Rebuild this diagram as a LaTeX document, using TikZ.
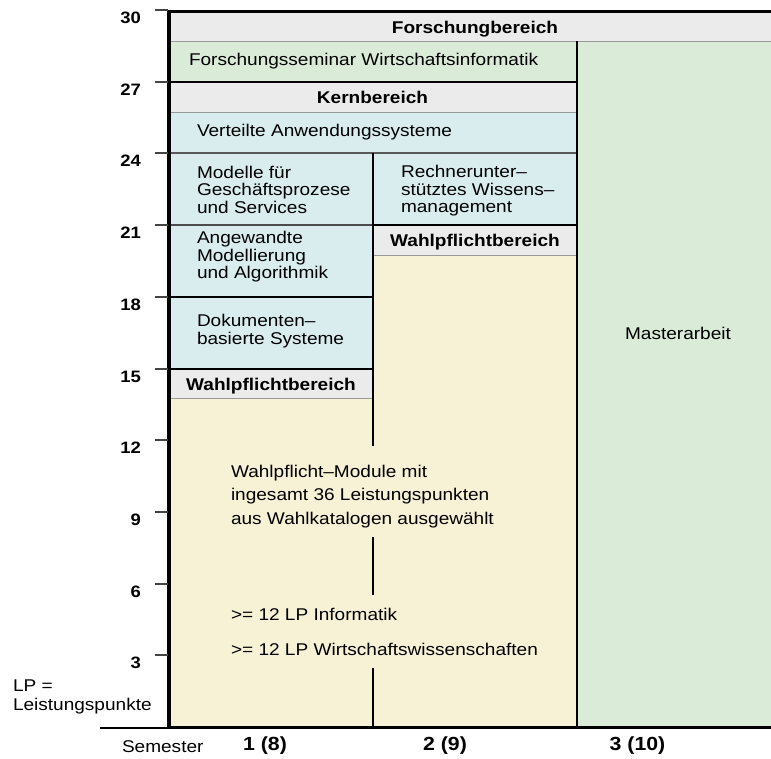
\documentclass[tikz,border=0pt]{standalone}
\usepackage{fontspec}
\setmainfont{Liberation Sans}[FakeStretch=1.12]
\definecolor{bandgray}{HTML}{EBEBEB}
\definecolor{greenfill}{HTML}{DAEBD8}
\definecolor{cyanfill}{HTML}{D9EDEF}
\definecolor{yellowfill}{HTML}{F7F2D5}
\definecolor{tickgray}{HTML}{444444}
\newcommand{\txtstack}[2]{{\fontsize{17}{#1}\selectfont\begin{tabular}[t]{@{}l@{}}#2\end{tabular}}}
\begin{document}
\begin{tikzpicture}[x=1pt,y=-1pt,
  every node/.style={inner sep=0pt, outer sep=0pt, font=\fontsize{17}{17.7}\selectfont},
  lbl/.style={anchor=base west},
  head/.style={anchor=base, font=\fontsize{17}{17.7}\selectfont\bfseries},
  ylab/.style={anchor=base east, font=\fontsize{16.5}{17}\selectfont\bfseries},
  semlab/.style={anchor=base, font=\fontsize{19}{20}\selectfont\bfseries},
  thingray/.style={draw=black!40, line width=1pt},
  darkline/.style={draw=black, line width=2pt},
  tickline/.style={draw=tickgray, line width=1.2pt}]
\useasboundingbox (0,0) rectangle (771,758);
% fills
\fill[bandgray] (168,11) rectangle (771,41);
\fill[greenfill] (168,41) rectangle (577,82);
\fill[greenfill] (577,41) rectangle (771,727);
\fill[bandgray] (168,82) rectangle (577,112);
\fill[cyanfill] (168,112) rectangle (577,225);
\fill[cyanfill] (168,225) rectangle (373,369);
\fill[bandgray] (373,225) rectangle (577,255);
\fill[bandgray] (168,369) rectangle (373,398);
\fill[yellowfill] (373,255) rectangle (577,727);
\fill[yellowfill] (168,398) rectangle (373,727);
% thin gray lines
\draw[thingray] (168,41) -- (771,41);
\draw[thingray] (168,112) -- (577,112);
\draw[thingray] (168,398) -- (373,398);
\draw[thingray] (373,255) -- (577,255);
% row lines
\draw[draw=black!65, line width=2pt] (168,153) -- (577,153);
\draw[draw=black!70, line width=1.4pt] (168,225) -- (373,225);
\draw[darkline] (373,225) -- (577,225);
\draw[draw=black, line width=1.3pt] (168,297) -- (373,297);
\draw[darkline] (168,369) -- (373,369);
\draw[darkline] (168,82) -- (577,82);
% verticals
\coordinate (v1a) at (373,153); \coordinate (v1b) at (373,446);
\coordinate (v2a) at (373,537); \coordinate (v2b) at (373,595);
\coordinate (v3a) at (373,668); \coordinate (v3b) at (373,727);
\draw[darkline] (v1a) -- (v1b);
\draw[darkline] (v2a) -- (v2b);
\draw[darkline] (v3a) -- (v3b);
\draw[darkline] (577,41) -- (577,727);
% frame
\draw[draw=black, line width=3pt] (168,11) -- (771,11);
\draw[draw=black, line width=2pt] (100,727.5) -- (168,727.5);
\draw[draw=black, line width=3.5pt] (168,727.5) -- (771,727.5);
\draw[draw=black, line width=4pt] (168.7,9.5) -- (168.7,729.2);
% ticks and y labels
\foreach \v/\yy in {30/10,27/82,24/153,21/225,18/297,15/369,12/440,9/512,6/584,3/655}{
  \draw[tickline] (155,\yy) -- (168,\yy);
  \node[ylab] (y\v) at (141,\yy+13) {\v};
}
% texts
\node[head] (forsch) at (475,33) {Forschungbereich};
\node[lbl] (seminar) at (189,65) {Forschungsseminar Wirtschaftsinformatik};
\node[head] (kern) at (372.5,103) {Kernbereich};
\node[lbl] (verteilt) at (197,136) {Verteilte Anwendungssysteme};
\node[lbl] (modelle) at (197,178) {\txtstack{17.7}{Modelle für\\Geschäftsprozese\\und Services}};
\node[lbl] (rechner) at (401,177.5) {\txtstack{17.7}{Rechnerunter–\\stütztes Wissens–\\management}};
\node[head] (wpb2) at (475,246) {Wahlpflichtbereich};
\node[lbl] (angew) at (197,243.5) {\txtstack{17.5}{Angewandte\\Modellierung\\und Algorithmik}};
\node[lbl] (doku) at (197,326.7) {\txtstack{17.6}{Dokumenten–\\basierte Systeme}};
\node[head] (wpb1) at (271,390) {Wahlpflichtbereich};
\node[lbl] (wpmod) at (231,477) {\txtstack{23.5}{Wahlpflicht–Module mit\\ingesamt 36 Leistungspunkten\\aus Wahlkatalogen ausgewählt}};
\node[lbl] (info) at (231,620) {>= 12 LP Informatik};
\node[lbl] (wiwi) at (231,655) {>= 12 LP Wirtschaftswissenschaften};
\node[anchor=base] (master) at (678,339) {Masterarbeit};
\node[lbl] (lp) at (13,691.7) {\txtstack{18.3}{LP =\\Leistungspunkte}};
\node[lbl] (sem) at (122,752) {Semester};
\node[semlab] (s1) at (265,750) {1 (8)};
\node[semlab] (s2) at (445,750) {2 (9)};
\node[semlab] (s3) at (637.5,750) {3 (10)};
\end{tikzpicture}
\end{document}
